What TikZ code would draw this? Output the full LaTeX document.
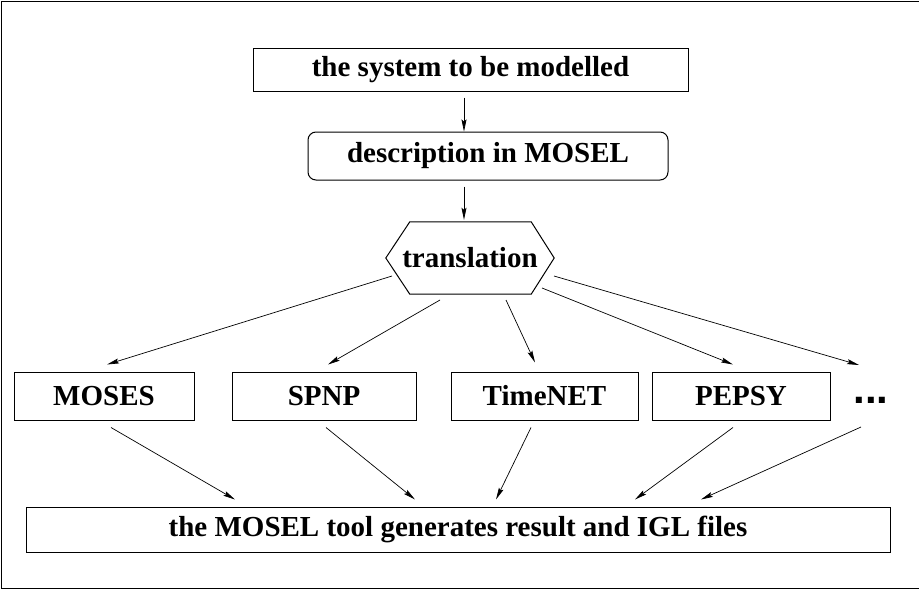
\documentclass[tikz,border=0pt]{standalone}
\usepackage{fontspec}
\setmainfont{Liberation Serif}
\newfontfamily\dotsfont{Liberation Sans}
\usetikzlibrary{arrows.meta}
\begin{document}
\begin{tikzpicture}[x=1pt,y=-1pt,
  lbl/.style={font=\fontsize{29}{34}\selectfont\bfseries, inner sep=0pt, align=center},
  boxnode/.style={lbl, draw, line width=1pt},
  arr/.style={line width=0.7pt, -{Stealth[length=12pt,width=5pt,inset=2pt]}}]
\useasboundingbox (0,0) rectangle (919,589);
% outer frame
\draw[line width=1pt] (940,1) -- (1.5,1) -- (1.5,588) -- (940,588);
% nodes
\node[boxnode, minimum width=435pt, minimum height=43pt] (sys) at (470.5,69.5) {the system to be modelled};
\node[boxnode, rounded corners=8pt, minimum width=360pt, minimum height=48pt] (desc) at (488,156) {description in MOSEL};
\node[lbl, minimum width=168pt, minimum height=72pt] (hex) at (470,258) {translation};
\draw[line width=1pt] (hex.west) -- ([xshift=24pt]hex.north west) -- ([xshift=-23pt]hex.north east) -- (hex.east) -- ([xshift=-23pt]hex.south east) -- ([xshift=24pt]hex.south west) -- cycle;
\node[boxnode, minimum width=180pt, minimum height=48pt] (moses) at (104,396) {MOSES};
\node[boxnode, minimum width=184pt, minimum height=48pt] (spnp) at (324,396) {SPNP};
\node[boxnode, minimum width=187pt, minimum height=48pt] (timenet) at (544.5,396) {TimeNET};
\node[boxnode, minimum width=178pt, minimum height=48pt] (pepsy) at (741,396) {PEPSY};
\node[inner sep=0pt, font=\dotsfont\fontsize{42}{42}\selectfont\bfseries] (dots) at (871,400) {...};
\node[boxnode, minimum width=864pt, minimum height=45pt] (res) at (458,529.5) {the MOSEL tool generates result and IGL files};
% connectors
\draw[arr] ([xshift=-6.5pt,yshift=-6pt]sys.south) -- ([xshift=-24pt]desc.north);
\draw[arr] ([xshift=-24pt,yshift=-6pt]desc.south) -- ([xshift=-6pt,yshift=2pt]hex.north);
\draw[arr] ([shift={(-78pt,-18pt)}]hex.center) -- ([shift={(3pt,7pt)}]moses.north);
\draw[arr] ([shift={(-30pt,-42pt)}]hex.center) -- ([shift={(4pt,7pt)}]spnp.north);
\draw[arr] ([shift={(36pt,-42pt)}]hex.center) -- ([shift={(-9.5pt,9pt)}]timenet.north);
\draw[arr] ([shift={(72pt,-30pt)}]hex.center) -- ([shift={(-8pt,7pt)}]pepsy.north);
\draw[arr] ([shift={(84pt,-18pt)}]hex.center) -- ([shift={(-12pt,35pt)}]dots.center);
\draw[arr] ([shift={(7pt,-7pt)}]moses.south) -- ([shift={(-223pt,7pt)}]res.north);
\draw[arr] ([shift={(2pt,-7pt)}]spnp.south) -- ([shift={(-43pt,7pt)}]res.north);
\draw[arr] ([shift={(-13.5pt,-7pt)}]timenet.south) -- ([shift={(38pt,7pt)}]res.north);
\draw[arr] ([shift={(-8pt,-7pt)}]pepsy.south) -- ([shift={(177pt,7pt)}]res.north);
\draw[arr] ([shift={(-10pt,-27pt)}]dots.center) -- ([shift={(243pt,7pt)}]res.north);
\end{tikzpicture}
\end{document}
